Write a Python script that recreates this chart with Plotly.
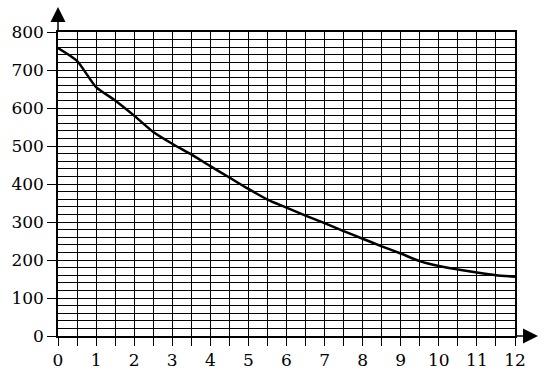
import plotly.graph_objects as go

x_vals = [0, 0.5, 1, 1.5, 2, 2.5, 3, 3.5, 4, 4.5, 5, 5.5, 6, 6.5, 7, 7.5, 8, 8.5, 9, 9.5, 10, 10.5, 11, 11.5, 12]
y_vals = [758, 724, 655, 620, 580, 537, 506, 478, 447, 417, 387, 359, 338, 317, 297, 276, 256, 236, 217, 197, 184, 175, 167, 160, 156]

x_ticks = list(range(0, 13))
y_ticks = list(range(0, 801, 100))

font_family = "DejaVu Serif"

fig = go.Figure()
fig.add_trace(go.Scatter(
    x=x_vals, y=y_vals, mode="lines",
    line=dict(color="black", width=2.5, shape="spline", smoothing=0.6),
    hoverinfo="skip", showlegend=False, cliponaxis=False,
))

fig.update_layout(
    width=544, height=382,
    margin=dict(l=58, r=29, t=32, b=46),
    paper_bgcolor="white", plot_bgcolor="white",
    font=dict(family=font_family, size=17, color="black"),
    showlegend=False,
    xaxis=dict(
        range=[0, 12], tickvals=x_ticks, ticktext=[str(v) for v in x_ticks],
        ticks="outside", ticklen=8, tickwidth=1.2, tickcolor="black",
        showgrid=True, gridcolor="black", gridwidth=1.2,
        minor=dict(dtick=0.5, showgrid=True, gridcolor="black", gridwidth=1.2,
                   ticks="outside", ticklen=8, tickwidth=1.2, tickcolor="black"),
        showline=True, linecolor="black", linewidth=1.5, mirror=True,
        zeroline=False, fixedrange=True, automargin=False,
    ),
    yaxis=dict(
        range=[0, 800], tickvals=y_ticks, ticktext=[str(v) for v in y_ticks],
        ticks="outside", ticklen=9, tickwidth=1.2, tickcolor="black",
        showgrid=True, gridcolor="black", gridwidth=1.2,
        minor=dict(dtick=20, showgrid=True, gridcolor="black", gridwidth=1.2, ticks=""),
        showline=True, linecolor="black", linewidth=1.5, mirror=True,
        zeroline=False, fixedrange=True, automargin=False,
    ),
    annotations=[
        dict(xref="paper", yref="paper", x=0, y=1 + 25 / 304, ax=0, ay=26,
             axref="pixel", ayref="pixel", text="", showarrow=True,
             arrowhead=2, arrowsize=2, arrowwidth=1.5, arrowcolor="black"),
        dict(xref="paper", yref="paper", x=1 + 23 / 457, y=0, ax=-24, ay=0,
             axref="pixel", ayref="pixel", text="", showarrow=True,
             arrowhead=2, arrowsize=2, arrowwidth=1.5, arrowcolor="black"),
    ],
)

fig.write_html("out.html", config={"displayModeBar": False})
